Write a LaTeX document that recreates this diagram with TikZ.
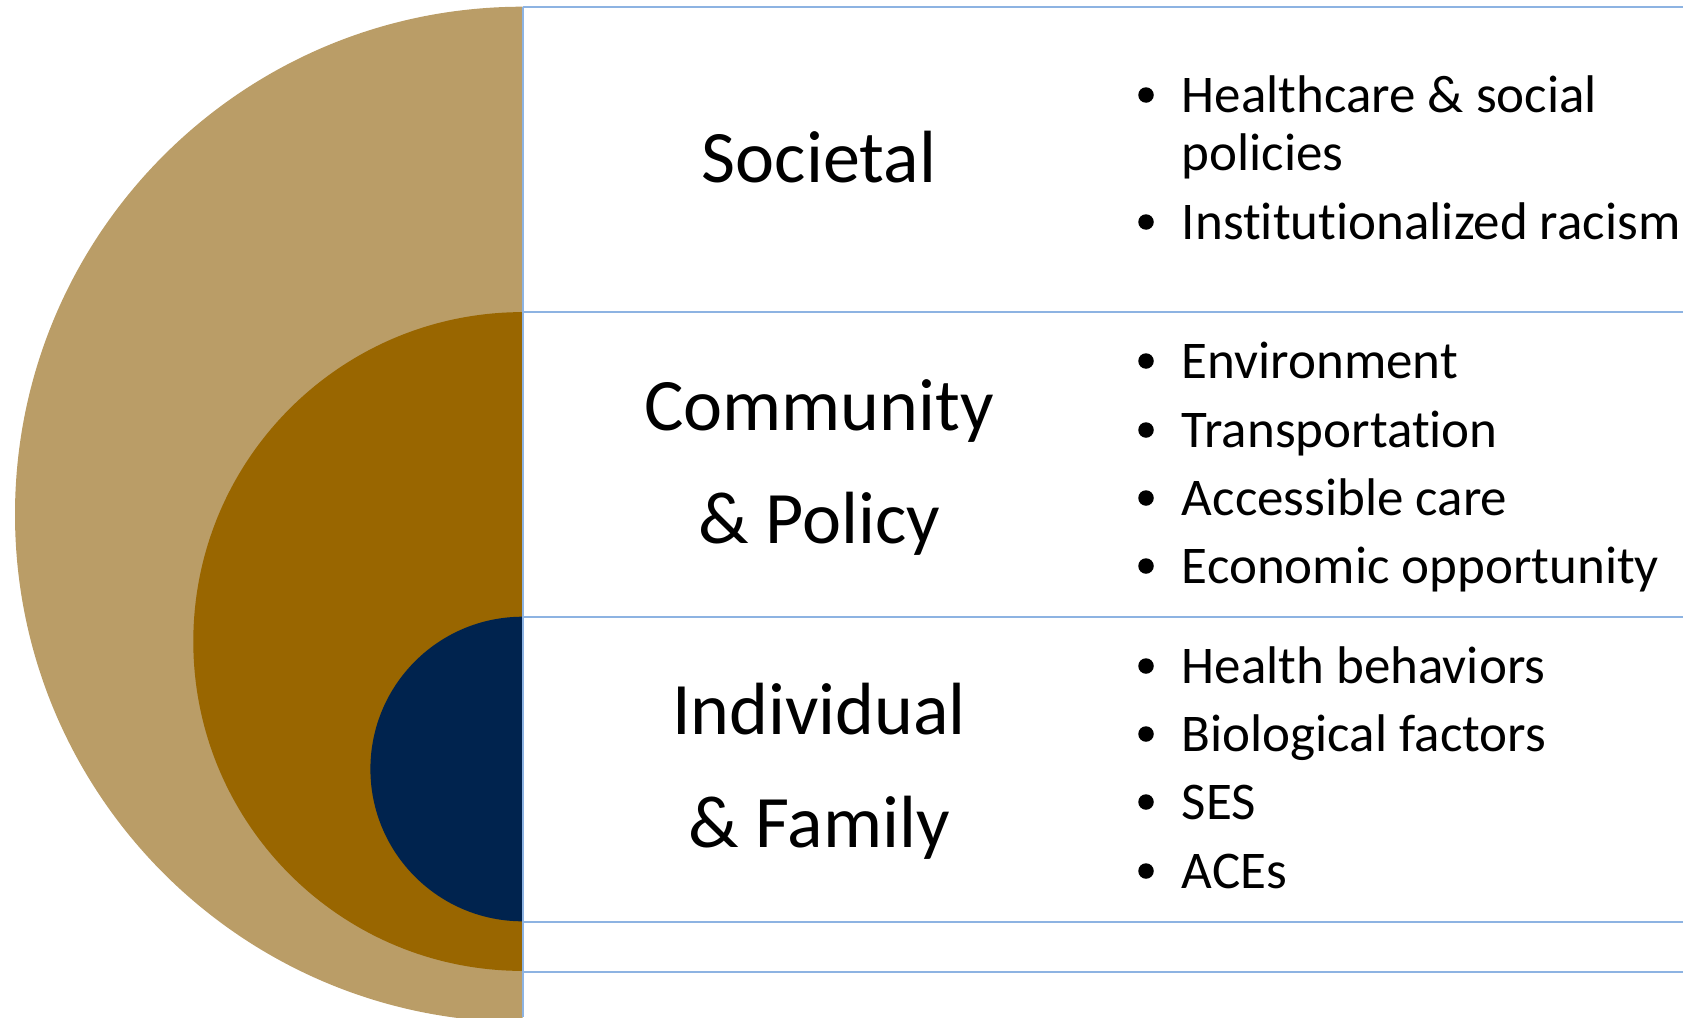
\documentclass[tikz,border=0pt]{standalone}
\usepackage{fontspec}
\setmainfont{Carlito}[Ligatures=NoCommon]
\usetikzlibrary{calc}
\definecolor{tan}{HTML}{BA9D67}
\definecolor{brownmid}{HTML}{996600}
\definecolor{navy}{HTML}{00234E}
\definecolor{lineblue}{HTML}{8DB3E2}
\begin{document}
\begin{tikzpicture}[x=1pt,y=-1pt,
  title/.style={font=\fontsize{74}{111}\selectfont, anchor=base, inner sep=0},
  item/.style={font=\fontsize{53}{58}\selectfont, anchor=base west, inner sep=0},
  dot/.style={circle, fill=black, inner sep=0, minimum size=15.5pt},
  rule/.style={draw=lineblue, line width=2pt}]
\useasboundingbox (0,0) rectangle (1683,1017);
% half discs
\begin{scope}
\clip (0,0) rectangle (522.7,1017);
\fill[tan] (522.7,514.4) circle[radius=507.7];
\fill[brownmid] (522.7,641.5) circle[radius=329.4];
\fill[navy] (522.7,769) circle[radius=152.3];
\end{scope}
% rules
\coordinate (v0) at (522.7,6.7);
\coordinate (v1) at (522.7,1017);
\draw[rule] (v0) -- (v1);
\foreach \y [count=\i] in {6.7,312,616.7,921.7,972.3}{
  \coordinate (hl\i) at (522.7,\y);
  \coordinate (hr\i) at (1683,\y);
  \draw[rule] (hl\i) -- (hr\i);
}
% titles
\node[title] (soc) at (819,182) {Societal};
\node[title] (com1) at (819,430) {Community};
\node[title] (com2) at (819,543) {\& Policy};
\node[title] (ind1) at (819,734) {Individual};
\node[title] (ind2) at (819,847) {\& Family};
% bullets
\foreach \name/\y/\txt in {
  b1/112/{Healthcare \& social},
  b2/239/{Institutionalized racism},
  b3/378/{Environment},
  b4/447/{Transportation},
  b5/515/{Accessible care},
  b6/583/{Economic opportunity},
  b7/683/{Health behaviors},
  b8/751/{Biological factors},
  b9/819/{SES},
  b10/888/{ACEs}}{
  \node[item] (\name) at (1181.7,\y) {\txt};
  \node[dot] (\name d) at ($(\name.base west)+(-35.7,-17)$) {};
}
\node[item] (b1b) at (1181.7,170) {policies};
\end{tikzpicture}
\end{document}
